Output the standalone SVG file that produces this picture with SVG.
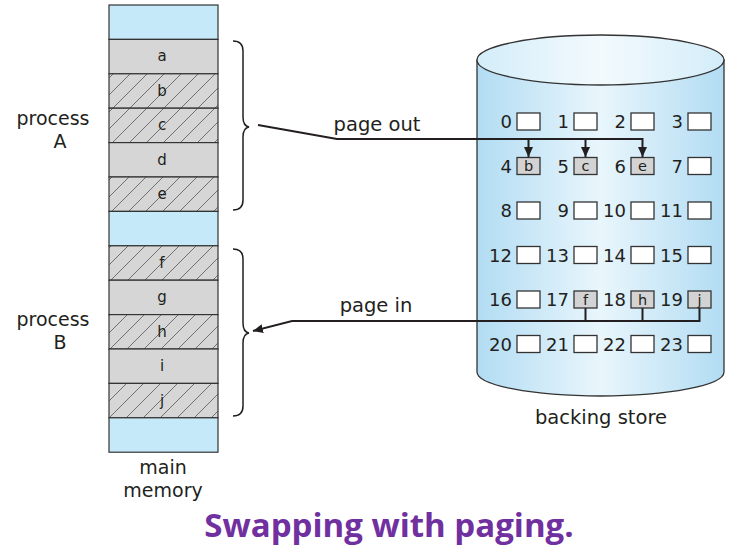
<svg xmlns="http://www.w3.org/2000/svg" width="738" height="552" viewBox="0 0 738 552">
<defs>
<style>
.t{font-family:"DejaVu Sans","Open Sans",sans-serif;fill:#231f20}
.lab{font-size:19.5px}
.two{font-size:19px}
.mem{font-size:15px;text-anchor:middle}
.num{font-size:18px;text-anchor:end}
.bl{font-size:14.5px;text-anchor:middle}
.cell{stroke:#333;stroke-width:1.2}
.blue{fill:#c6e9f9}
.plain{fill:#d6d6d6}
.hat{fill:url(#hatch)}
.box{fill:#fff;stroke:#333;stroke-width:1.3}
.gbox{fill:#d3d3d3;stroke:#333;stroke-width:1.3}
.ln{fill:none;stroke:#231f20;stroke-width:2}
.br{fill:none;stroke:#231f20;stroke-width:1.5}
</style>
<pattern id="hatch" patternUnits="userSpaceOnUse" width="17" height="17">
<rect width="17" height="17" fill="#d6d6d6"/>
<path d="M-2,19 L19,-2 M-2,2 L2,-2 M15,19 L19,15" stroke="#707070" stroke-width="1"/>
</pattern>
<linearGradient id="cyl" x1="0" y1="0" x2="1" y2="0">
<stop offset="0" stop-color="#b2dcf3"/>
<stop offset="0.5" stop-color="#e9f6fc"/>
<stop offset="1" stop-color="#b2dcf3"/>
</linearGradient>
<linearGradient id="top" x1="0" y1="0" x2="1" y2="0">
<stop offset="0" stop-color="#d3edf9"/>
<stop offset="0.5" stop-color="#f3fafd"/>
<stop offset="1" stop-color="#d3edf9"/>
</linearGradient>
<marker id="arr" markerWidth="10" markerHeight="10" viewBox="0 0 10 10" refX="10" refY="5" orient="auto" markerUnits="userSpaceOnUse">
<path d="M0,0.5 L10,5 L0,9.5 Z" fill="#231f20"/>
</marker>
</defs>
<rect width="738" height="552" fill="#fff"/>

<g id="main-memory">
<rect class="cell blue" x="109" y="5" width="109" height="34.4"/>
<rect class="cell plain" x="109" y="39.4" width="109" height="34.4"/>
<rect class="cell hat" x="109" y="73.8" width="109" height="34.4"/>
<rect class="cell hat" x="109" y="108.2" width="109" height="34.4"/>
<rect class="cell plain" x="109" y="142.6" width="109" height="34.4"/>
<rect class="cell hat" x="109" y="177" width="109" height="34.4"/>
<rect class="cell blue" x="109" y="211.4" width="109" height="34.4"/>
<rect class="cell hat" x="109" y="245.8" width="109" height="34.4"/>
<rect class="cell plain" x="109" y="280.2" width="109" height="34.4"/>
<rect class="cell hat" x="109" y="314.6" width="109" height="34.4"/>
<rect class="cell plain" x="109" y="349" width="109" height="34.4"/>
<rect class="cell hat" x="109" y="383.4" width="109" height="34.4"/>
<rect class="cell blue" x="109" y="417.8" width="109" height="34.4"/>
<text class="t mem" x="162" y="61">a</text>
<text class="t mem" x="162" y="96">b</text>
<text class="t mem" x="162" y="130">c</text>
<text class="t mem" x="162" y="165">d</text>
<text class="t mem" x="162" y="199">e</text>
<text class="t mem" x="162" y="268">f</text>
<text class="t mem" x="162" y="302">g</text>
<text class="t mem" x="162" y="337">h</text>
<text class="t mem" x="162" y="371">i</text>
<text class="t mem" x="162" y="406">j</text>
<text class="t two" x="163" y="474" text-anchor="middle">main</text>
<text class="t two" x="163" y="497" text-anchor="middle">memory</text>
</g>

<g id="process-A">
<path class="br" d="M233,41 Q243,41 243,51 L243,117 Q243,126 249,127 Q243,128 243,137 L243,200 Q243,210 233,210"/>
<text class="t two" x="53" y="125" text-anchor="middle">process</text>
<text class="t two" x="60" y="148" text-anchor="middle">A</text>
</g>

<g id="process-B">
<path class="br" d="M233,249 Q243,249 243,259 L243,323 Q243,332 249,333 Q243,334 243,343 L243,406 Q243,416 233,416"/>
<text class="t two" x="53" y="326" text-anchor="middle">process</text>
<text class="t two" x="60" y="349" text-anchor="middle">B</text>
</g>

<g id="backing-store">
<path d="M477,60 L477,372 A123.5,24 0 0 0 724,372 L724,60 Z" fill="url(#cyl)" stroke="#333" stroke-width="1.3"/>
<ellipse cx="600.5" cy="60" rx="123.5" ry="25" fill="url(#top)" stroke="#333" stroke-width="1.3"/>
<text class="t lab" x="601" y="424" text-anchor="middle">backing store</text>
</g>

<g id="slots">
<rect class="box" x="517" y="113" width="23" height="17"/>
<rect class="box" x="574" y="113" width="23" height="17"/>
<rect class="box" x="631" y="113" width="23" height="17"/>
<rect class="box" x="688" y="113" width="23" height="17"/>
<rect class="gbox" x="517" y="157.5" width="23" height="17"/>
<rect class="gbox" x="574" y="157.5" width="23" height="17"/>
<rect class="gbox" x="631" y="157.5" width="23" height="17"/>
<rect class="box" x="688" y="157.5" width="23" height="17"/>
<rect class="box" x="517" y="202" width="23" height="17"/>
<rect class="box" x="574" y="202" width="23" height="17"/>
<rect class="box" x="631" y="202" width="23" height="17"/>
<rect class="box" x="688" y="202" width="23" height="17"/>
<rect class="box" x="517" y="246.5" width="23" height="17"/>
<rect class="box" x="574" y="246.5" width="23" height="17"/>
<rect class="box" x="631" y="246.5" width="23" height="17"/>
<rect class="box" x="688" y="246.5" width="23" height="17"/>
<rect class="box" x="517" y="291" width="23" height="17"/>
<rect class="gbox" x="574" y="291" width="23" height="17"/>
<rect class="gbox" x="631" y="291" width="23" height="17"/>
<rect class="gbox" x="688" y="291" width="23" height="17"/>
<rect class="box" x="517" y="335.5" width="23" height="17"/>
<rect class="box" x="574" y="335.5" width="23" height="17"/>
<rect class="box" x="631" y="335.5" width="23" height="17"/>
<rect class="box" x="688" y="335.5" width="23" height="17"/>
<text class="t num" x="512" y="128">0</text>
<text class="t num" x="569" y="128">1</text>
<text class="t num" x="626" y="128">2</text>
<text class="t num" x="683" y="128">3</text>
<text class="t num" x="512" y="172.5">4</text>
<text class="t num" x="569" y="172.5">5</text>
<text class="t num" x="626" y="172.5">6</text>
<text class="t num" x="683" y="172.5">7</text>
<text class="t num" x="512" y="217">8</text>
<text class="t num" x="569" y="217">9</text>
<text class="t num" x="626" y="217">10</text>
<text class="t num" x="683" y="217">11</text>
<text class="t num" x="512" y="261.5">12</text>
<text class="t num" x="569" y="261.5">13</text>
<text class="t num" x="626" y="261.5">14</text>
<text class="t num" x="683" y="261.5">15</text>
<text class="t num" x="512" y="306">16</text>
<text class="t num" x="569" y="306">17</text>
<text class="t num" x="626" y="306">18</text>
<text class="t num" x="683" y="306">19</text>
<text class="t num" x="512" y="350.5">20</text>
<text class="t num" x="569" y="350.5">21</text>
<text class="t num" x="626" y="350.5">22</text>
<text class="t num" x="683" y="350.5">23</text>
<text class="t bl" x="528.5" y="171">b</text>
<text class="t bl" x="585.5" y="171">c</text>
<text class="t bl" x="642.5" y="171">e</text>
<text class="t bl" x="585.5" y="304.5">f</text>
<text class="t bl" x="642.5" y="304.5">h</text>
<text class="t bl" x="699.5" y="304.5">j</text>
</g>

<g id="connectors">
<path class="ln" d="M258,125 L337,139 L643,139"/>
<line class="ln" x1="528.5" y1="139" x2="528.5" y2="157" marker-end="url(#arr)"/>
<line class="ln" x1="585.5" y1="139" x2="585.5" y2="157" marker-end="url(#arr)"/>
<line class="ln" x1="642.5" y1="138" x2="642.5" y2="157" marker-end="url(#arr)"/>
<path class="ln" d="M585.5,308 L585.5,321 M642.5,308 L642.5,321 M699.5,308 L699.5,321 L292,321 L253,331" marker-end="url(#arr)"/>
<text class="t lab" x="377" y="131" text-anchor="middle">page out</text>
<text class="t lab" x="376" y="312" text-anchor="middle">page in</text>
</g>

<text x="389" y="537" text-anchor="middle" font-family="'Open Sans','Noto Sans',sans-serif" font-weight="bold" font-size="33" fill="#7030a0">Swapping with paging.</text>
</svg>
